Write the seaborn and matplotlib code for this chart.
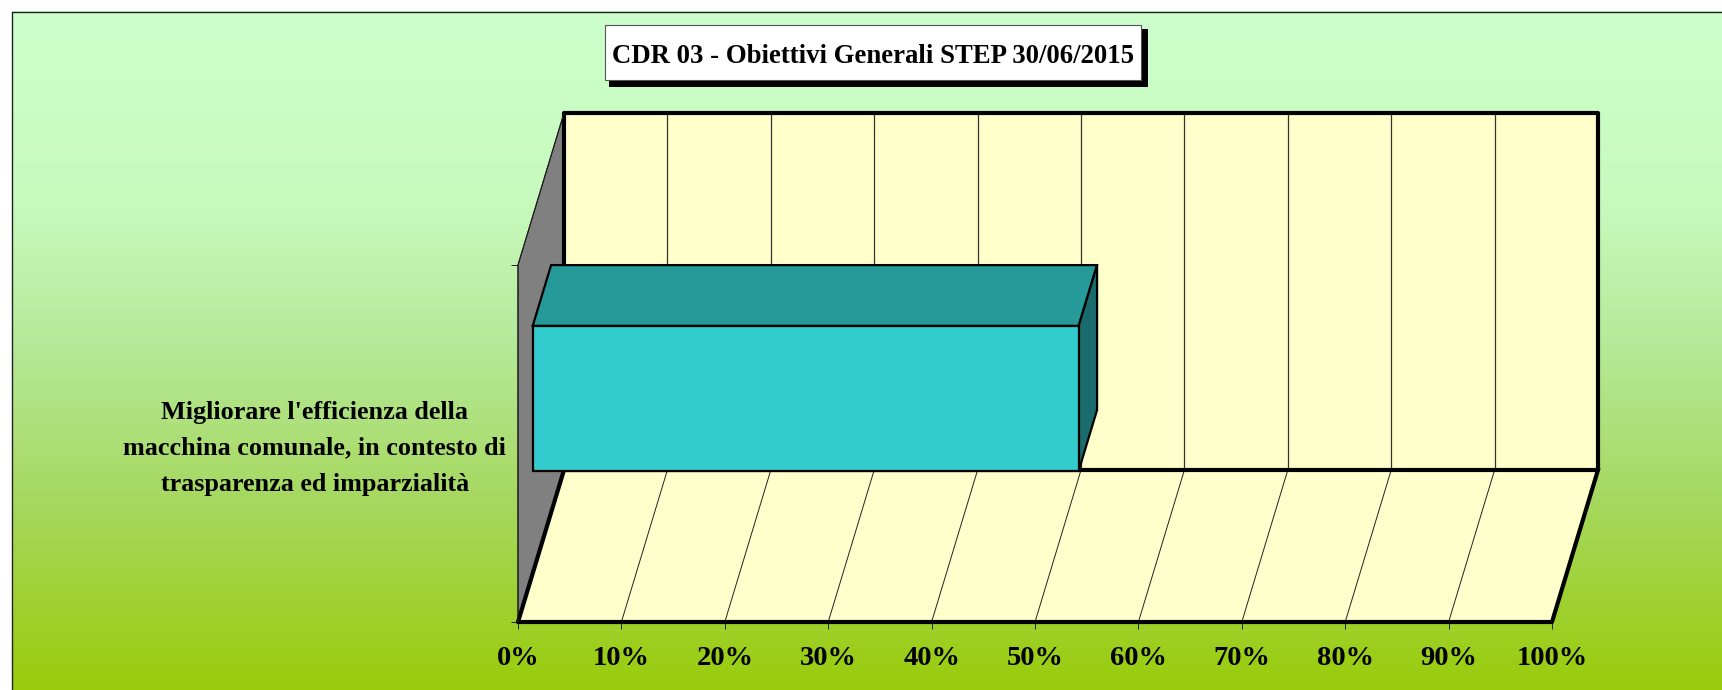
import numpy as np
import matplotlib
matplotlib.use("Agg")
import matplotlib.pyplot as plt
from matplotlib.patches import Rectangle, Polygon
import seaborn as sns

categories = ["Migliorare l'efficienza della\nmacchina comunale, in contesto di\ntrasparenza ed imparzialità"]
values = [52.8]
x_ticks = [0, 10, 20, 30, 40, 50, 60, 70, 80, 90, 100]
x_tick_labels = [f"{v}%" for v in x_ticks]
title = "CDR 03 - Obiettivi Generali STEP 30/06/2015"

sns.set_style("white")
plt.rcParams["font.family"] = ["Liberation Serif", "DejaVu Serif"]
plt.rcParams["font.weight"] = "bold"

W, H = 1722, 690
fig = plt.figure(figsize=(W / 100, H / 100), dpi=100, facecolor="white")

# background: gradient panel, frame and title box, in pixel coordinates
bg = fig.add_axes([0, 0, 1, 1])
bg.set_xlim(0, W)
bg.set_ylim(H, 0)
bg.axis("off")
FL, FT = 12, 11.5
stops_y = [FT, 200, 345, 500, H]
stops_c = np.array([[204, 255, 204], [200, 250, 190], [182, 233, 152], [166, 216, 96], [153, 204, 10]]) / 255
ys = np.arange(FT, H)
grad = np.stack([np.interp(ys, stops_y, stops_c[:, i]) for i in range(3)], axis=1)[:, None, :]
bg.imshow(grad, extent=(FL, W, H, FT), aspect="auto", zorder=0)
bg.set_xlim(0, W)
bg.set_ylim(H, 0)
bg.plot([FL, FL], [H, FT], color="#222222", lw=1, zorder=1)
bg.plot([FL, W], [FT, FT], color="#222222", lw=1, zorder=1)
bg.add_patch(Rectangle((609, 29), 539, 58, fc="black", ec="none", zorder=2))
bg.add_patch(Rectangle((605, 24.5), 536, 55.5, fc="white", ec="#555555", lw=0.8, zorder=3))
bg.text(873.5, 56.5, title, ha="center", va="center", fontsize=19.3, fontweight="bold",
        color="black", zorder=4)

# main axes = front plane of the oblique box
ax = fig.add_axes([518 / W, (H - 622) / H, 1034 / W, 357 / H])
ax.patch.set_alpha(0)
sns.barplot(x=values, y=categories, orient="h", width=0.406, color="#33CCCC",
            saturation=1, edgecolor="black", linewidth=1.6, ax=ax, zorder=6)
ax.set_xlim(0, 100)
ax.set_ylim(-0.5, 0.5)
sns.despine(ax=ax, left=True, bottom=True)

DX = 46 / 1034 * 100   # full depth in data units
DY = 152 / 357


def prj(x, y, d):
    return (x + d * DX, y + d * DY)


thick = dict(color="black", lw=3.0, solid_capstyle="projecting", clip_on=False)
# left wall
ax.add_patch(Polygon([prj(0, -.5, 0), prj(0, .5, 0), prj(0, .5, 1), prj(0, -.5, 1)],
                     fc="#808080", ec="#222222", lw=0.8, clip_on=False, zorder=1))
# floor
ax.add_patch(Polygon([prj(0, -.5, 0), prj(100, -.5, 0), prj(100, -.5, 1), prj(0, -.5, 1)],
                     fc="#FFFFCC", ec="none", clip_on=False, zorder=1))
# back wall
ax.add_patch(Polygon([prj(0, -.5, 1), prj(100, -.5, 1), prj(100, .5, 1), prj(0, .5, 1)],
                     fc="#FFFFCC", ec="none", clip_on=False, zorder=1))
# gridlines
for v in x_ticks[1:-1]:
    ax.plot(*zip(prj(v, -.5, 1), prj(v, .5, 1)), color="#333333", lw=0.9, clip_on=False, zorder=2)
    ax.plot(*zip(prj(v, -.5, 0), prj(v, -.5, 1)), color="#222222", lw=0.7, clip_on=False, zorder=2)
# heavy outlines
ax.plot(*zip(prj(0, -.5, 1), prj(0, .5, 1), prj(100, .5, 1), prj(100, -.5, 1), prj(0, -.5, 1)), zorder=3, **thick)
ax.plot(*zip(prj(0, -.5, 1), prj(0, -.5, 0), prj(100, -.5, 0), prj(100, -.5, 1)), zorder=3, **thick)
ax.plot(*zip(prj(0, -.5, 0), prj(0, .5, 0), prj(0, .5, 1)), color="#222222", lw=0.8, clip_on=False, zorder=3)

# 3D bar: move the seaborn front face forward into the box, add top and side
D_FRONT, D_BACK = 0.32, 0.72
DROP = 0.0098  # the bar's base sits on the back wall's lower edge
bar = ax.patches[0]
x0, y0, w, h = bar.get_x(), bar.get_y() - DROP, bar.get_width(), bar.get_height()
bar.set_clip_on(False)
bar.set_x(x0 + D_FRONT * DX)
bar.set_y(y0 + D_FRONT * DY)
x1, y1 = x0 + w, y0 + h
edge = dict(ec="black", lw=1.6, clip_on=False, joinstyle="miter")
ax.add_patch(Polygon([prj(x0, y1, D_FRONT), prj(x1, y1, D_FRONT), prj(x1, y1, D_BACK), prj(x0, y1, D_BACK)],
                     fc="#269999", zorder=5, **edge))
ax.add_patch(Polygon([prj(x1, y0, D_FRONT), prj(x1, y1, D_FRONT), prj(x1, y1, D_BACK), prj(x1, y0, D_BACK)],
                     fc="#1A6B6B", zorder=5, **edge))

# axes ticks
ax.set_xticks(x_ticks, x_tick_labels)
ax.set_yticks([0.012], categories)
ax.tick_params(axis="x", bottom=True, length=5, width=0.7, color="#222222", pad=12,
               labelsize=20.5, labelcolor="black")
ax.tick_params(axis="y", left=False, pad=5, labelsize=18.8, labelcolor="black")
ax.set_yticks([-0.5, 0.5], minor=True)
ax.tick_params(axis="y", which="minor", left=True, length=5, width=0.7, color="#222222")
for t in ax.get_xticklabels() + ax.get_yticklabels():
    t.set_fontweight("bold")
for t in ax.get_yticklabels():
    t.set_multialignment("center")
    t.set_linespacing(1.72)
ax.set_xlabel("")
ax.set_ylabel("")

fig.savefig("out.png", dpi=100, facecolor="white")
